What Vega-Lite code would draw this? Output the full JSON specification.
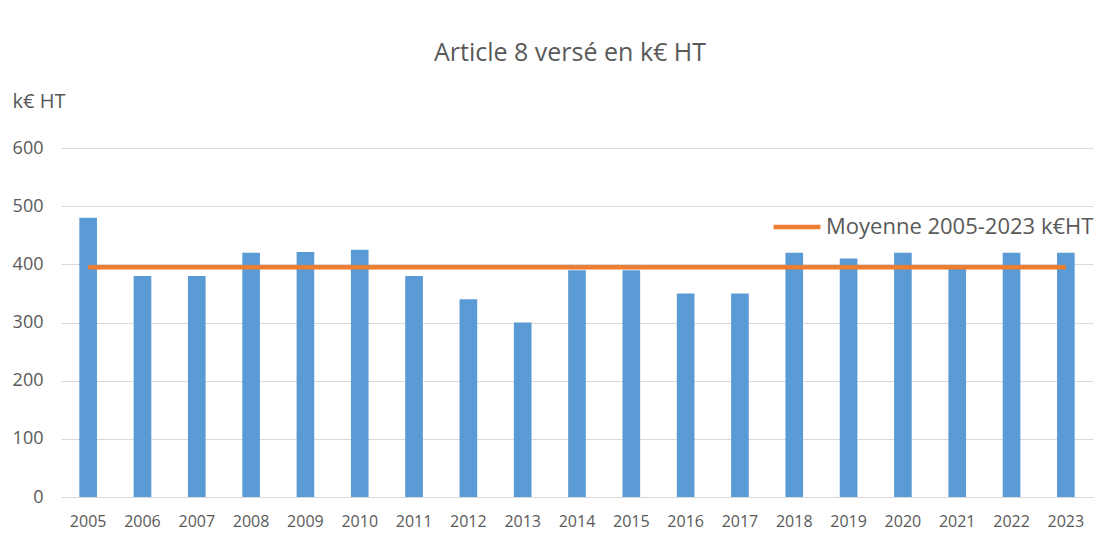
{
  "$schema": "https://vega.github.io/schema/vega-lite/v6.json",
  "width": 1032,
  "height": 349,
  "autosize": {"type": "none"},
  "padding": {"left": 61, "top": 148, "right": 12, "bottom": 44},
  "background": "#FFFFFF",
  "title": {
    "text": "Article 8 versé en k€ HT",
    "font": "Open Sans",
    "fontSize": 25,
    "fontWeight": "normal",
    "color": "#595959",
    "anchor": "middle",
    "frame": "group",
    "baseline": "alphabetic",
    "offset": 5,
    "dx": -7
  },
  "data": {
    "values": [
      {"annee": "2005", "montant": 480, "moyenne": 395},
      {"annee": "2006", "montant": 380, "moyenne": 395},
      {"annee": "2007", "montant": 380, "moyenne": 395},
      {"annee": "2008", "montant": 420, "moyenne": 395},
      {"annee": "2009", "montant": 421, "moyenne": 395},
      {"annee": "2010", "montant": 425, "moyenne": 395},
      {"annee": "2011", "montant": 380, "moyenne": 395},
      {"annee": "2012", "montant": 340, "moyenne": 395},
      {"annee": "2013", "montant": 300, "moyenne": 395},
      {"annee": "2014", "montant": 390, "moyenne": 395},
      {"annee": "2015", "montant": 390, "moyenne": 395},
      {"annee": "2016", "montant": 350, "moyenne": 395},
      {"annee": "2017", "montant": 350, "moyenne": 395},
      {"annee": "2018", "montant": 420, "moyenne": 395},
      {"annee": "2019", "montant": 410, "moyenne": 395},
      {"annee": "2020", "montant": 420, "moyenne": 395},
      {"annee": "2021", "montant": 395, "moyenne": 395},
      {"annee": "2022", "montant": 420, "moyenne": 395},
      {"annee": "2023", "montant": 420, "moyenne": 395}
    ]
  },
  "encoding": {
    "x": {
      "field": "annee",
      "type": "nominal",
      "sort": null,
      "scale": {"paddingInner": 0.675, "paddingOuter": 0.3375},
      "axis": {
        "title": null,
        "labelAngle": 0,
        "labelFont": "Open Sans",
        "labelFontSize": 16,
        "labelColor": "#595959",
        "labelPadding": 16,
        "ticks": false,
        "domain": true,
        "domainColor": "#D9D9D9",
        "domainWidth": 1,
        "grid": false
      }
    }
  },
  "layer": [
    {
      "mark": {"type": "bar", "color": "#5B9BD5"},
      "encoding": {
        "y": {
          "field": "montant",
          "type": "quantitative",
          "scale": {"domain": [0, 600], "nice": false},
          "axis": {
            "title": "k€ HT",
            "titleAngle": 0,
            "titleFont": "Open Sans",
            "titleFontSize": 20,
            "titleFontWeight": "normal",
            "titleColor": "#595959",
            "titleAlign": "left",
            "titleBaseline": "middle",
            "titleX": -49,
            "titleY": -47,
            "values": [0, 100, 200, 300, 400, 500, 600],
            "labelFont": "Open Sans",
            "labelFontSize": 18,
            "labelColor": "#595959",
            "labelPadding": 18,
            "ticks": false,
            "domain": false,
            "grid": true,
            "gridColor": "#D9D9D9",
            "gridWidth": 1
          }
        }
      }
    },
    {
      "mark": {"type": "line", "strokeWidth": 4.5},
      "encoding": {
        "y": {"field": "moyenne", "type": "quantitative"},
        "color": {
          "datum": "Moyenne 2005-2023 k€HT",
          "type": "nominal",
          "scale": {"range": ["#ED7D31"]},
          "legend": {
            "title": null,
            "orient": "none",
            "legendX": 710,
            "legendY": 53,
            "symbolType": "stroke",
            "symbolSize": 2200,
            "symbolStrokeWidth": 4.5,
            "labelFont": "Open Sans",
            "labelFontSize": 22,
            "labelColor": "#595959",
            "labelOffset": 3,
            "labelLimit": 400
          }
        }
      }
    }
  ],
  "config": {"view": {"stroke": null}}
}
